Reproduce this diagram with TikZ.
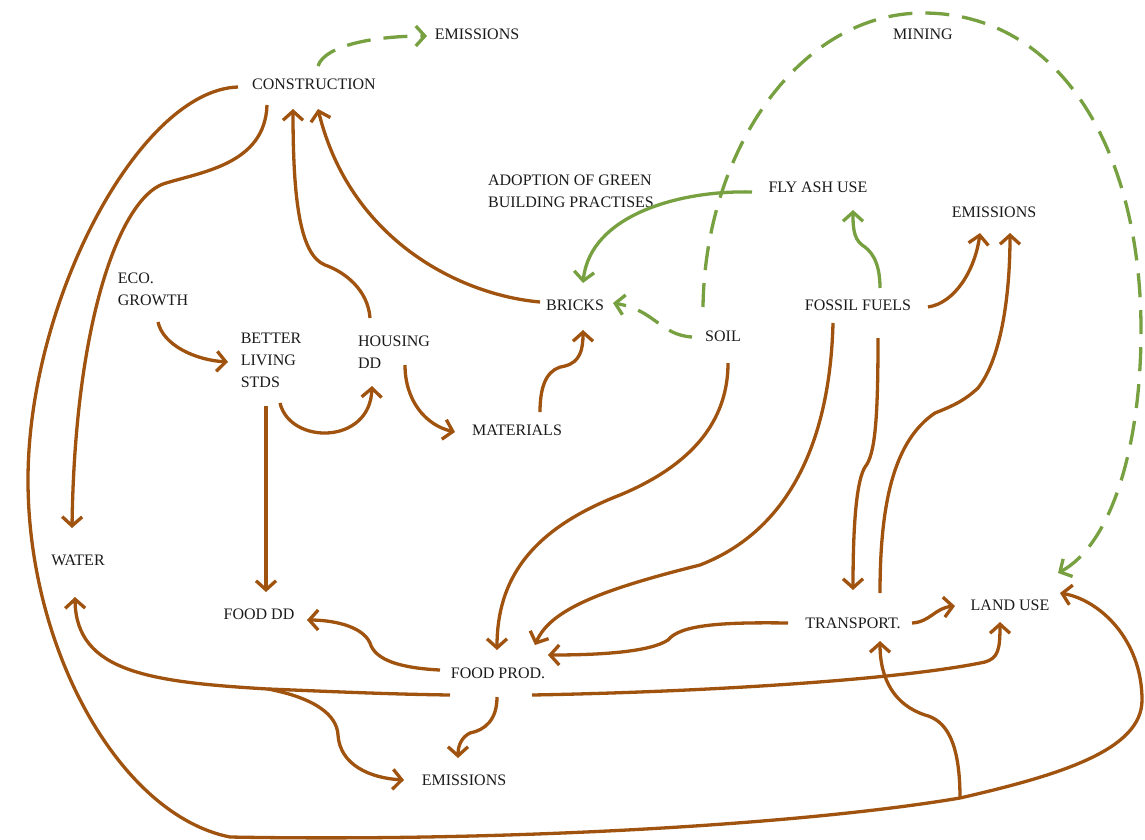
\documentclass[tikz,border=0pt]{standalone}
\usepackage{fontspec}
\setmainfont{Liberation Serif}
\usepackage{xcolor}
\usetikzlibrary{arrows.meta,calc}

\definecolor{rust}{HTML}{A0520F}
\definecolor{leaf}{HTML}{77A040}
\definecolor{ink}{HTML}{1A1A1A}

\begin{document}
\begin{tikzpicture}[
    x=1pt, y=-1pt,
    lbl/.style={text=ink, inner sep=2pt, align=left, font=\fontsize{16}{22}\selectfont},
    link/.style={line width=3.3pt, rust},
    arrow/.style={link, -{Straight Barb[length=9pt,width=20pt]}},
    greenarrow/.style={arrow, leaf},
    greendash/.style={greenarrow, dash pattern=on 24pt off 13pt}
]
\useasboundingbox (0,0) rectangle (1145,839);

\node[lbl] (emisTop) at (477,34) {EMISSIONS};
\node[lbl] (construction) at (314,84) {CONSTRUCTION};
\node[lbl] (mining) at (923,34) {MINING};
\node[lbl] (green) at (571,191) {ADOPTION OF GREEN\\BUILDING PRACTISES};
\node[lbl] (flyash) at (818,187) {FLY ASH USE};
\node[lbl] (emisRight) at (994,212) {EMISSIONS};
\node[lbl] (eco) at (153,289) {ECO.\\GROWTH};
\node[lbl] (better) at (271,360) {BETTER\\LIVING\\STDS};
\node[lbl] (housing) at (394,352) {HOUSING\\DD};
\node[lbl] (bricks) at (575,305) {BRICKS};
\node[lbl] (soil) at (723,336) {SOIL};
\node[lbl] (fossil) at (858,305) {FOSSIL FUELS};
\node[lbl] (materials) at (517,430) {MATERIALS};
\node[lbl] (water) at (78,560) {WATER};
\node[lbl] (fooddd) at (259,614) {FOOD DD};
\node[lbl] (foodprod) at (498,673) {FOOD PROD.};
\node[lbl] (transport) at (853,623) {TRANSPORT.};
\node[lbl] (landuse) at (1010,605) {LAND USE};
\node[lbl] (emisBot) at (464,780) {EMISSIONS};

\coordinate (j1) at (268,689);
\coordinate (j2) at (960,798);

% construction
\draw[greendash] ($(construction)+(4,-18)$) .. controls (325,45) and (375,36) .. ($(emisTop)+(-50,2)$);
\draw[arrow] ($(construction)+(-47,21)$) .. controls (265,165) and (200,172) .. (163,184) .. controls (120,200) and (75,320) .. ($(water)+(-6,-32)$);
\draw[link] ($(construction)+(-76,3)$) .. controls (140,90) and (28,300) .. (28,480) .. controls (28,650) and (120,815) .. (230,837) .. controls (500,842) and (800,825) .. (j2);
\draw[arrow] (j2) .. controls (1060,775) and (1142,750) .. (1142,700) .. controls (1142,640) and (1100,600) .. ($(landuse)+(50,-12)$);
\draw[arrow] (j2) .. controls (960,740) and (945,720) .. (925,715) .. controls (895,705) and (880,680) .. ($(transport)+(27,18)$);

% into construction
\draw[arrow] ($(housing)+(-24,-34)$) .. controls (368,290) and (345,272) .. (325,265) .. controls (300,255) and (293,200) .. ($(construction)+(-21,25)$);
\draw[arrow] ($(bricks)+(-35,-3)$) .. controls (460,295) and (350,240) .. ($(construction)+(4,25)$);

% demand side
\draw[arrow] ($(eco)+(5,33)$) .. controls (163,345) and (195,360) .. ($(better)+(-43,2)$);
\draw[arrow] ($(better)+(9,43)$) .. controls (290,445) and (370,445) .. ($(housing)+(-22,34)$);
\draw[arrow] ($(better)+(-5,46)$) -- ($(fooddd)+(7,-22)$);
\draw[arrow] ($(housing)+(11,13)$) .. controls (405,400) and (425,425) .. ($(materials)+(-62,2)$);
\draw[arrow] ($(materials)+(23,-18)$) .. controls (540,380) and (550,368) .. (565,366) .. controls (580,362) and (583,350) .. ($(bricks)+(8,25)$);

% green links
\draw[greenarrow] ($(flyash)+(-66,5)$) .. controls (680,190) and (590,215) .. ($(bricks)+(8,-22)$);
\draw[greendash] ($(soil)+(-31,1)$) .. controls (660,335) and (655,310) .. ($(bricks)+(38,-2)$);
\draw[greendash] ($(soil)+(-20,-29)$) .. controls (705,150) and (800,13) .. (923,13) .. controls (1060,13) and (1141,150) .. (1141,330) .. controls (1141,450) and (1110,545) .. ($(landuse)+(48,-32)$);
\draw[greenarrow] ($(fossil)+(22,-17)$) .. controls (880,260) and (870,250) .. (862,245) .. controls (853,238) and (853,225) .. ($(flyash)+(35,23)$);

% soil and fossil fuels
\draw[arrow] ($(soil)+(5,27)$) .. controls (728,430) and (680,470) .. (620,495) .. controls (530,530) and (497,580) .. ($(foodprod)+(-1,-23)$);
\draw[arrow] ($(fossil)+(-25,18)$) .. controls (830,440) and (790,530) .. (700,565) .. controls (600,590) and (550,610) .. ($(foodprod)+(37,-28)$);
\draw[arrow] ($(fossil)+(70,2)$) .. controls (955,303) and (975,270) .. ($(emisRight)+(-14,21)$);
\draw[arrow] ($(fossil)+(20,33)$) .. controls (878,420) and (875,455) .. (865,467) .. controls (857,480) and (853,520) .. ($(transport)+(0,-33)$);

% transport
\draw[arrow] ($(transport)+(27,-30)$) .. controls (880,500) and (895,440) .. (935,413) .. controls (955,405) and (965,400) .. (978,388) .. controls (1000,360) and (1010,300) .. ($(emisRight)+(16,21)$);
\draw[arrow] ($(transport)+(-65,0)$) .. controls (720,622) and (680,625) .. (668,640) .. controls (650,652) and (600,655) .. ($(foodprod)+(50,-18)$);
\draw[arrow] ($(transport)+(59,0)$) .. controls (930,622) and (935,608) .. ($(landuse)+(-55,1)$);

% food production
\draw[arrow] ($(foodprod)+(-58,-3)$) .. controls (400,668) and (375,660) .. (370,643) .. controls (362,625) and (330,620) .. ($(fooddd)+(48,6)$);
\draw[link] ($(foodprod)+(-48,22)$) .. controls (380,694) and (320,691) .. (j1);
\draw[arrow] (j1) .. controls (150,682) and (76,672) .. ($(water)+(-3,37)$);
\draw[arrow] (j1) .. controls (315,698) and (337,715) .. (338,735) .. controls (340,765) and (370,778) .. ($(emisBot)+(-60,0)$);
\draw[arrow] ($(foodprod)+(34,22)$) .. controls (700,692) and (900,680) .. (985,662) .. controls (998,658) and (1000,650) .. ($(landuse)+(-10,17)$);
\draw[arrow] ($(foodprod)+(-1,24)$) .. controls (497,720) and (485,730) .. (470,733) .. controls (462,737) and (458,745) .. ($(emisBot)+(-6,-22)$);
\end{tikzpicture}
\end{document}
